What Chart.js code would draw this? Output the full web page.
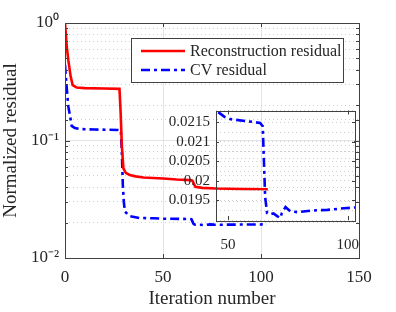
<!DOCTYPE html>
<html>
<head>
<meta charset="utf-8">
<script src="https://cdn.jsdelivr.net/npm/chart.js@4.4.1/dist/chart.umd.min.js"></script>
<style>
  body { margin: 0; background: #fff; }
  #wrap { position: relative; width: 396px; height: 312px; }
  #wrap canvas { position: absolute; left: 0; top: 0; }
  #insetChart { pointer-events: none; }
</style>
</head>
<body>
<div id="wrap">
  <canvas id="mainChart" width="396" height="312"></canvas>
  <canvas id="insetChart" width="396" height="312"></canvas>
</div>
<script>
// values
const iterRecon = [0, 0.9, 1.7, 2.9, 3.9, 6, 10, 20, 27.8, 28.4, 29, 29.8, 31, 33, 36, 40, 50, 57, 64, 65, 66.5, 70, 77, 90, 103.5];
const reconResidual = [1.0, 0.63, 0.48, 0.35, 0.296, 0.282, 0.279, 0.277, 0.275, 0.17, 0.09, 0.058, 0.053, 0.0509, 0.0495, 0.0485, 0.0475, 0.0466, 0.046, 0.0455, 0.0404, 0.0395, 0.039, 0.0387, 0.0385];

const iterCV = [0, 0.8, 1.7, 2.5, 3.4, 5, 8, 15, 27, 28.5, 29, 29.5, 30, 30.6, 33, 38, 45, 48.7, 50.8, 59, 63.4, 64.5, 65, 65.5, 66.3, 67.6, 69, 70.5, 71.8, 72.5, 74, 76, 79, 84.5, 91.5, 98.4, 103];
const cvResidual = [0.44, 0.29, 0.194, 0.165, 0.133, 0.128, 0.125, 0.124, 0.123, 0.122, 0.08, 0.042, 0.03, 0.0248, 0.0227, 0.0219, 0.0218, 0.02163, 0.02158, 0.02152, 0.02148, 0.0214, 0.0205, 0.0196, 0.01918, 0.01914, 0.01917, 0.0191, 0.01905, 0.01918, 0.01933, 0.01922, 0.0192, 0.01924, 0.01926, 0.0193, 0.01932];

const seriesLabels = ['Reconstruction residual', 'CV residual'];

const xTicksMain = [0, 50, 100, 150];
const yTicksMain = [0.01, 0.1, 1];
const yTickLabelsMain = ['10\u207B\u00B2', '10\u207B\u00B9', '10\u2070'];

const xTicksInset = [50, 100];
const yTicksInset = [0.0195, 0.02, 0.0205, 0.021, 0.0215];
const yTickLabelsInset = ['0.0195', '0.02', '0.0205', '0.021', '0.0215'];

const serif = "'Liberation Serif', 'Times New Roman', serif";
const txt = '#262626';

const toPoints = (xs, ys) => xs.map((x, i) => ({ x, y: ys[i] }));
const isDecade = v => Math.abs(Math.log10(v) - Math.round(Math.log10(v))) < 1e-6;
const pick = (list, labels, v) => {
    const i = list.findIndex(t => Math.abs(t - v) < Math.abs(t) * 1e-6);
    return i >= 0 ? labels[i] : '';
};

// axes box with short inward ticks (matlab style)
function boxPlugin(xTicks, yTickList, yLen) {
    return {
        id: 'box',
        afterDraw(chart) {
            const { ctx, chartArea: a, scales } = chart;
            ctx.save();
            ctx.strokeStyle = '#404040';
            ctx.lineWidth = 1;
            ctx.beginPath();
            xTicks.forEach(v => {
                const px = Math.round(scales.x.getPixelForValue(v)) + 0.5;
                ctx.moveTo(px, a.bottom); ctx.lineTo(px, a.bottom - 4);
                ctx.moveTo(px, a.top); ctx.lineTo(px, a.top + 4);
            });
            yTickList(chart).forEach(v => {
                const py = Math.round(scales.y.getPixelForValue(v)) + 0.5;
                const l = yLen(v);
                ctx.moveTo(a.left, py); ctx.lineTo(a.left + l, py);
                ctx.moveTo(a.right, py); ctx.lineTo(a.right - l, py);
            });
            ctx.stroke();
            ctx.strokeRect(Math.round(a.left) + 0.5, Math.round(a.top) + 0.5,
                Math.round(a.right - a.left), Math.round(a.bottom - a.top));
            ctx.restore();
        }
    };
}

const legendBox = {
    id: 'legendBox',
    afterDraw(chart) {
        const ctx = chart.ctx;
        ctx.save();
        ctx.fillStyle = '#fff';
        ctx.fillRect(131, 38, 212, 44);
        ctx.strokeStyle = '#404040';
        ctx.lineWidth = 1;
        ctx.strokeRect(131.5, 38.5, 212, 44);
        chart.data.datasets.forEach((ds, i) => {
            const y = 51 + i * 19;
            ctx.strokeStyle = ds.borderColor;
            ctx.lineWidth = ds.borderWidth;
            ctx.setLineDash(ds.borderDash || []);
            ctx.beginPath();
            ctx.moveTo(141, y); ctx.lineTo(185, y);
            ctx.stroke();
            ctx.setLineDash([]);
            ctx.fillStyle = txt;
            ctx.font = '16px ' + serif;
            ctx.textBaseline = 'middle';
            ctx.fillText(ds.label, 190, y + 1);
        });
        ctx.restore();
    }
};

new Chart(document.getElementById('mainChart'), {
    type: 'line',
    data: {
        datasets: [{
            label: seriesLabels[0],
            data: toPoints(iterRecon, reconResidual),
            borderColor: '#ff0000',
            borderWidth: 2.6,
            pointRadius: 0,
            tension: 0
        }, {
            label: seriesLabels[1],
            data: toPoints(iterCV, cvResidual),
            borderColor: '#0000ff',
            borderWidth: 2.6,
            borderDash: [9, 4, 3, 4],
            pointRadius: 0,
            tension: 0
        }]
    },
    options: {
        responsive: false,
        animation: false,
        devicePixelRatio: 1,
        layout: { padding: { top: 23, right: 37, left: 0, bottom: 0 } },
        plugins: { legend: { display: false }, tooltip: { enabled: false } },
        scales: {
            x: {
                type: 'linear', min: 0, max: 150,
                afterFit: s => { s.height = 54; },
                ticks: { stepSize: 50, padding: 9, color: txt, font: { family: serif, size: 17 } },
                grid: { drawTicks: false, color: '#e4e4e4' },
                border: { display: false },
                title: { display: true, text: 'Iteration number', color: txt, font: { family: serif, size: 19 }, padding: { top: 0, bottom: 2 } }
            },
            y: {
                type: 'logarithmic', min: 0.01, max: 1,
                afterFit: s => { s.width = 65; },
                ticks: {
                    autoSkip: false, padding: 6, color: txt, font: { family: serif, size: 17 },
                    callback: v => pick(yTicksMain, yTickLabelsMain, v)
                },
                grid: {
                    drawTicks: false,
                    color: c => (c.tick && isDecade(c.tick.value)) ? '#e2e2e2' : '#cfcfcf'
                },
                border: {
                    display: false,
                    dash: c => (c.tick && !isDecade(c.tick.value)) ? [1, 3] : []
                },
                title: { display: true, text: 'Normalized residual', color: txt, font: { family: serif, size: 19 }, padding: { top: 0, bottom: 0 } }
            }
        }
    },
    plugins: [
        boxPlugin(xTicksMain, ch => ch.scales.y.ticks.map(t => t.value), v => isDecade(v) ? 5 : 3),
        legendBox
    ]
});

new Chart(document.getElementById('insetChart'), {
    type: 'line',
    data: {
        datasets: [{
            label: seriesLabels[1],
            data: toPoints(iterCV, cvResidual),
            borderColor: '#0000ff',
            borderWidth: 2.6,
            borderDash: [9, 4, 3, 4],
            pointRadius: 0,
            tension: 0
        }]
    },
    options: {
        responsive: false,
        animation: false,
        devicePixelRatio: 1,
        layout: { padding: { top: 110.5, right: 41, left: 0, bottom: 0 } },
        plugins: { legend: { display: false }, tooltip: { enabled: false } },
        scales: {
            x: {
                type: 'linear', min: 45, max: 103,
                afterFit: s => { s.height = 92; },
                ticks: { stepSize: 50, includeBounds: false, padding: 8, color: txt, font: { family: serif, size: 15 } },
                grid: { display: false },
                border: { display: false }
            },
            y: {
                type: 'linear', min: 0.019, max: 0.0218,
                afterFit: s => { s.width = 216; },
                ticks: {
                    stepSize: 0.00025, autoSkip: false, padding: 6, color: txt, font: { family: serif, size: 15 },
                    callback: v => pick(yTicksInset, yTickLabelsInset, v)
                },
                grid: { drawTicks: false, color: '#cfcfcf' },
                border: { display: false, dash: [1, 3] }
            }
        }
    },
    plugins: [boxPlugin(xTicksInset, () => yTicksInset, () => 3)]
});
</script>
</body>
</html>
